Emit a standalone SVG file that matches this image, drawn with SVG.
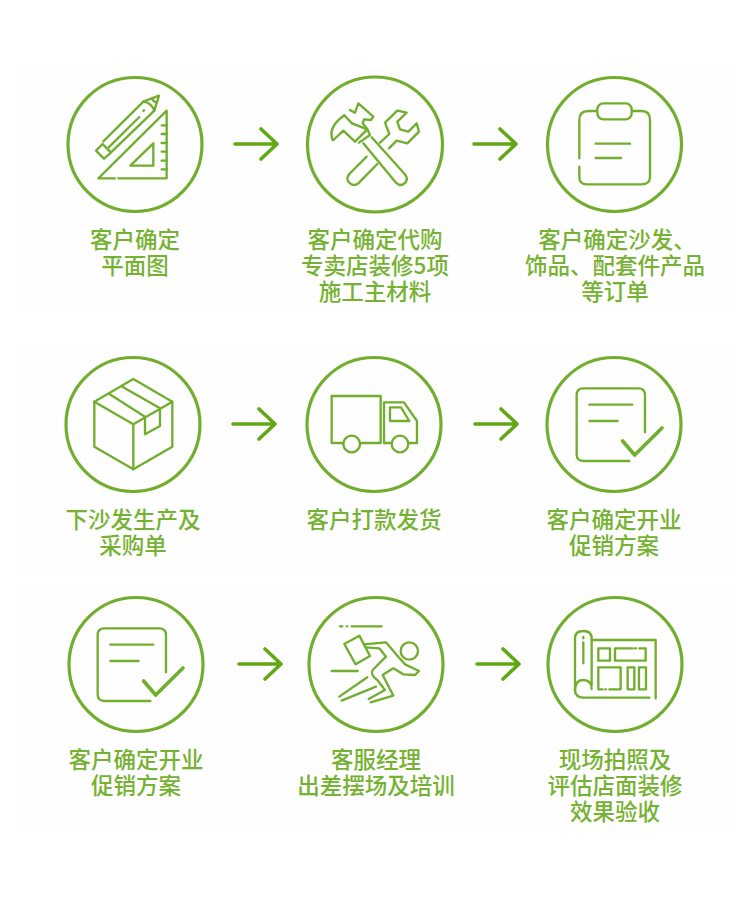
<svg xmlns="http://www.w3.org/2000/svg" xmlns:xlink="http://www.w3.org/1999/xlink" width="750" height="900" viewBox="0 0 750 900">
<style>
.ring{fill:none;stroke:#72ae2e;stroke-width:3.2}
.ic{fill:none;stroke:#72ae2e;stroke-width:7;stroke-linecap:round;stroke-linejoin:round}
.arrow{fill:none;stroke:#62a814;stroke-width:3.6;stroke-linecap:round;stroke-linejoin:round}
.lb{font-family:"Noto Sans CJK SC","Liberation Sans",sans-serif;font-size:22.5px;font-weight:500;fill:#76b232;text-anchor:middle}
.bg{fill:#fefefe}
</style>
<defs>
<path id="arr" class="arrow" d="M0,0H42M26,-15L42,0L26,15"/>
<g id="docIcon">
<path d="M298,348H160Q140,348 140,328V150Q140,130 160,130H325Q345,130 345,150V262"/>
<path d="M178,179H307M178,228H263"/>
<path style="stroke-width:11" d="M278,288L314,330L396,249"/>
</g>
</defs>
<rect class="bg" x="15" y="70" width="720" height="240"/>
<rect class="bg" x="15" y="350" width="720" height="220"/>
<rect class="bg" x="15" y="590" width="720" height="240"/>
<g id="connectors">
<use xlink:href="#arr" href="#arr" x="235" y="144"/>
<use xlink:href="#arr" href="#arr" x="474" y="144"/>
<use xlink:href="#arr" href="#arr" x="233" y="424"/>
<use xlink:href="#arr" href="#arr" x="475" y="424"/>
<use xlink:href="#arr" href="#arr" x="239" y="664"/>
<use xlink:href="#arr" href="#arr" x="477" y="664"/>
</g>
<g id="node1">
<circle class="ring" cx="135" cy="144.5" r="67"/>
<g class="ic" transform="translate(50,60) scale(.3333)">
<path d="M205,355H350V152L145,355H195"/>
<path d="M335,196H350M335,222H350M335,249H350M335,275H350M335,302H350M335,328H350"/>
<path d="M310,250V317H241Z"/>
<path d="M160,244L280,125L327,107L313,152L180,280L162,296L138,272L158,252L180,275"/>
<path d="M280,125Q304,128 313,152M307,116Q308,124 320,128"/>
<path d="M176,262L268,171M280,153L282,151"/>
</g>
<text class="lb" x="135" y="248">客户确定<tspan x="135" dy="26">平面图</tspan></text>
</g>
<g id="node2">
<circle class="ring" cx="375" cy="144.5" r="67.5"/>
<g class="ic" transform="translate(290,60) scale(.3333)">
<path d="M128,240C118,215 130,190 160,168M162,165L186,190M180,150L195,158L205,130L250,170L243,180L222,178L218,190L232,208L195,245L160,212L130,240"/>
<path d="M232,208L240,225L207,248M186,190L232,208"/>
<path d="M220,250L318,368Q332,382 346,368Q356,356 344,342L245,232"/>
<path d="M230,290L178,342Q165,358 180,370Q195,382 210,365L262,312"/>
<path d="M270,248L298,222L285,188L322,152L350,158L322,185L330,208L355,215L380,190L387,215L352,250L320,242L297,265"/>
</g>
<text class="lb" x="375" y="248">客户确定代购<tspan x="375" dy="26">专卖店装修5项</tspan><tspan x="375" dy="26">施工主材料</tspan></text>
</g>
<g id="node3">
<circle class="ring" cx="614.5" cy="144.5" r="67"/>
<g class="ic" transform="translate(530,60) scale(.3333)">
<path d="M148,295V180Q148,153 175,153H200M308,153H335Q360,153 360,180V350Q360,373 335,373H170Q148,373 148,350V320"/>
<rect x="202" y="130" width="103" height="48" rx="18"/>
<path d="M197,251H300M197,294H273"/>
</g>
<text class="lb" x="617" y="248">客户确定沙发、<tspan x="615" dy="26">饰品、配套件产品</tspan><tspan x="615" dy="26">等订单</tspan></text>
</g>
<g id="node4">
<circle class="ring" cx="133" cy="424.5" r="67"/>
<g class="ic" transform="translate(50,345) scale(.3333)">
<path d="M250,102L367,170V305L250,373L133,305V170Z"/>
<path d="M133,170L250,238L367,170M250,238V373"/>
<path d="M178,147L285,215V268L330,243V190L217,125"/>
</g>
<text class="lb" x="133" y="528">下沙发生产及<tspan x="133" dy="26">采购单</tspan></text>
</g>
<g id="node5">
<circle class="ring" cx="374" cy="424.5" r="67"/>
<g class="ic" transform="translate(290,345) scale(.3333)">
<path d="M160,294H125V153H272V294H212"/>
<path d="M305,294H282V172H342L381,228V294H355"/>
<path d="M300,187H333L358,228H300Z"/>
<circle cx="185" cy="297" r="25"/>
<circle cx="330" cy="297" r="25"/>
</g>
<text class="lb" x="374" y="528">客户打款发货</text>
</g>
<g id="node6">
<circle class="ring" cx="614" cy="424.5" r="67"/>
<use class="ic" xlink:href="#docIcon" href="#docIcon" transform="translate(530,345) scale(.3333)"/>
<text class="lb" x="614" y="528">客户确定开业<tspan x="614" dy="26">促销方案</tspan></text>
</g>
<g id="node7">
<circle class="ring" cx="136" cy="664.5" r="67"/>
<use class="ic" xlink:href="#docIcon" href="#docIcon" transform="translate(51,585) scale(.3333)"/>
<text class="lb" x="136" y="768">客户确定开业<tspan x="136" dy="26">促销方案</tspan></text>
</g>
<g id="node8">
<circle class="ring" cx="376" cy="664.5" r="67"/>
<g class="ic" transform="translate(290,585) scale(.3333)">
<path d="M150,124H157M170,124H172M185,124H275M125,258H203"/>
<path d="M163,177L208,152L240,213L197,238Z"/>
<circle cx="358" cy="198" r="26"/>
<path d="M228,187L268,190L288,215L248,255Q240,270 262,285L285,315L236,342"/>
<path d="M242,352L310,332L278,270L310,250L340,268L375,270L387,258L345,238L322,212L288,172L222,178"/>
<path d="M148,335L232,277M155,347L258,305"/>
</g>
<text class="lb" x="376" y="768">客服经理<tspan x="376" dy="26">出差摆场及培训</tspan></text>
</g>
<g id="node9">
<circle class="ring" cx="615" cy="664.5" r="67"/>
<g class="ic" transform="translate(530,585) scale(.3333)">
<path d="M135,318V160Q135,138 160,138Q185,138 185,160V300"/>
<path d="M135,318Q135,285 160,285Q185,285 185,312"/>
<path d="M135,318Q137,338 160,338H358"/>
<path d="M185,165H377V340"/>
<path d="M160,156V160M160,172V235"/>
<rect x="205" y="190" width="35" height="37"/>
<path d="M308,190H255V227H347V190H328M315,190H318"/>
<path d="M218,313H205V247H272V313H238M226,313H228"/>
<rect x="293" y="247" width="20" height="66"/>
<rect x="327" y="247" width="21" height="66"/>
</g>
<text class="lb" x="615" y="768">现场拍照及<tspan x="615" dy="26">评估店面装修</tspan><tspan x="615" dy="26">效果验收</tspan></text>
</g>
</svg>
